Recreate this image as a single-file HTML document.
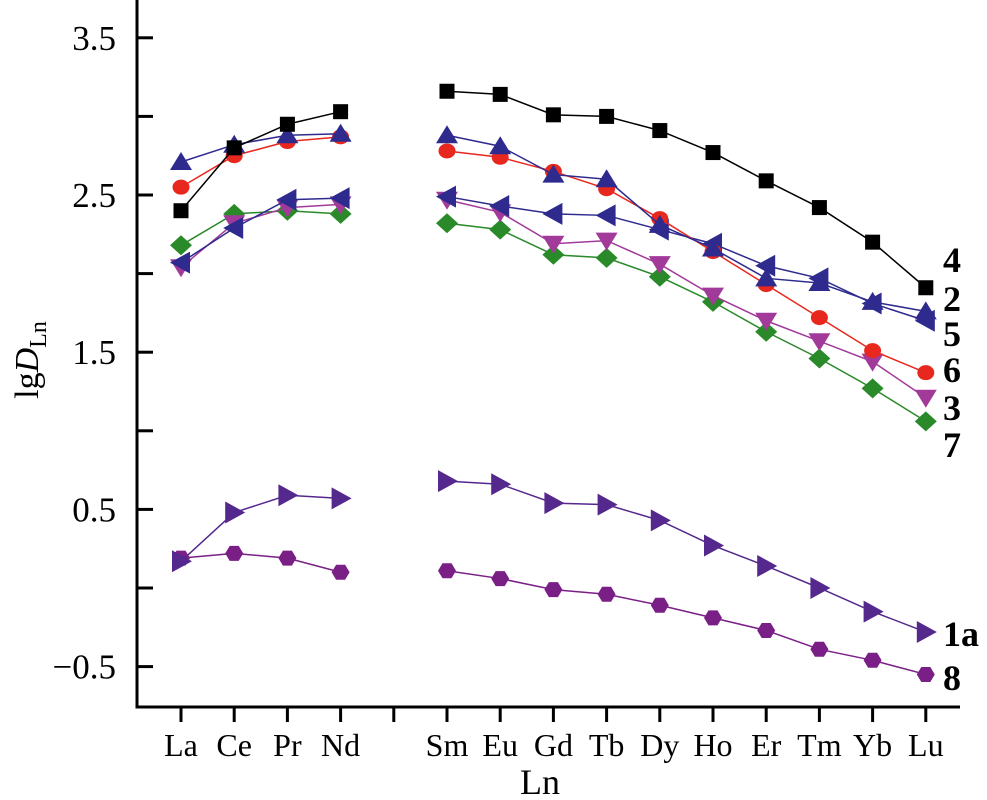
<!DOCTYPE html>
<html><head><meta charset="utf-8"><style>
html,body{margin:0;padding:0;background:#fff;}
svg{display:block;font-family:"Liberation Serif",serif;}
</style></head><body>
<svg id="chart" width="987" height="800" viewBox="0 0 987 800"></svg>
<script>
const categories=["La","Ce","Pr","Nd","Sm","Eu","Gd","Tb","Dy","Ho","Er","Tm","Yb","Lu"];
const catSlots=[0,1,2,3,5,6,7,8,9,10,11,12,13,14];
const yTicks=[-0.5,0,0.5,1,1.5,2,2.5,3,3.5];
const yTickLabels=["\u22120.5","","0.5","","1.5","","2.5","","3.5"];
const s4=[2.40,2.80,2.95,3.03,3.16,3.14,3.01,3.00,2.91,2.77,2.59,2.42,2.20,1.91];
const s2=[2.71,2.82,2.88,2.89,2.88,2.81,2.63,2.60,2.31,2.16,1.97,1.94,1.82,1.76];
const s6=[2.55,2.75,2.84,2.87,2.78,2.74,2.65,2.54,2.35,2.14,1.93,1.72,1.51,1.37];
const s5=[2.07,2.29,2.47,2.48,2.49,2.43,2.38,2.37,2.28,2.19,2.05,1.97,1.81,1.70];
const s3=[2.04,2.32,2.42,2.44,2.47,2.39,2.19,2.21,2.06,1.86,1.70,1.57,1.44,1.21];
const s7=[2.18,2.38,2.40,2.38,2.32,2.28,2.12,2.10,1.98,1.82,1.63,1.46,1.27,1.06];
const s1a=[0.17,0.48,0.59,0.57,0.68,0.66,0.54,0.53,0.43,0.27,0.14,0.00,-0.15,-0.28];
const s8=[0.19,0.22,0.19,0.10,0.11,0.06,-0.01,-0.04,-0.11,-0.19,-0.27,-0.39,-0.46,-0.55];

const NS="http://www.w3.org/2000/svg";
const svg=document.getElementById('chart');
function X(slot){return 181+slot*53.2;}
function Y(v){return 588-v*157.2;}
function el(tag,attrs,parent){const e=document.createElementNS(NS,tag);for(const k in attrs)e.setAttribute(k,attrs[k]);(parent||svg).appendChild(e);return e;}

const ax=el('g',{stroke:'#000','stroke-width':3,fill:'none'});


el('line',{x1:137,y1:0,x2:137,y2:708},ax);
el('line',{x1:135.5,y1:707,x2:960,y2:707},ax);
yTicks.forEach((t,i)=>{
  el('line',{x1:137,y1:Y(t),x2:153,y2:Y(t)},ax);
  if(yTickLabels[i]){
    const tx=el('text',{x:116,y:Y(t)+12,'text-anchor':'end','font-size':35,fill:'#000'});
    tx.textContent=yTickLabels[i];
    
    
  }
});
for(let s=0;s<15;s++){el('line',{x1:X(s),y1:707,x2:X(s),y2:722},ax);}
categories.forEach((c,i)=>{
  const tx=el('text',{x:X(catSlots[i]),y:756,'text-anchor':'middle','font-size':32,fill:'#000'});
  tx.textContent=c;
  
  
});
const xt=el('text',{x:540,y:794,'text-anchor':'middle','font-size':36,fill:'#000'});
xt.textContent='Ln';


const yt=el('text',{transform:'translate(38,360) rotate(-90)','text-anchor':'middle','font-size':34,fill:'#000'});
yt.innerHTML='lg<tspan font-style="italic">D</tspan><tspan font-size="24" dy="8">Ln</tspan>';



function marker(g,shape,x,y,col){
  if(shape==='square') el('rect',{x:x-7.5,y:y-7.5,width:15,height:15,fill:col},g);
  else if(shape==='circle') el('ellipse',{cx:x,cy:y,rx:8.5,ry:7.5,fill:col},g);
  else if(shape==='up') el('polygon',{points:`${x},${y-10} ${x-11},${y+8} ${x+11},${y+8}`,fill:col},g);
  else if(shape==='down') el('polygon',{points:`${x},${y+10} ${x-11},${y-8} ${x+11},${y-8}`,fill:col},g);
  else if(shape==='left') el('polygon',{points:`${x-11},${y} ${x+9},${y-11} ${x+9},${y+11}`,fill:col},g);
  else if(shape==='right') el('polygon',{points:`${x+11},${y} ${x-9},${y-11} ${x-9},${y+11}`,fill:col},g);
  else if(shape==='diamond') el('polygon',{points:`${x},${y-10} ${x+11},${y} ${x},${y+10} ${x-11},${y}`,fill:col},g);
  else if(shape==='hex') el('polygon',{points:`${x-9},${y} ${x-4.5},${y-7.5} ${x+4.5},${y-7.5} ${x+9},${y} ${x+4.5},${y+7.5} ${x-4.5},${y+7.5}`,fill:col},g);
}
const series=[
  {d:s8,c:'#7a1f86',sh:'hex',ly:690},
  {d:s1a,c:'#55288e',sh:'right',ly:646},
  {d:s7,c:'#2a8a2a',sh:'diamond',ly:457},
  {d:s3,c:'#a23a9a',sh:'down',ly:420},
  {d:s5,c:'#2e2a8e',sh:'left',ly:346},
  {d:s6,c:'#e8281e',sh:'circle',ly:382},
  {d:s2,c:'#2e2a8e',sh:'up',ly:311},
  {d:s4,c:'#000',sh:'square',ly:272},
];
const nm=["8","1a","7","3","5","6","2","4"];
series.forEach((s,k)=>{
  const g=el('g',{});
  
  
  const seg1=[],seg2=[];
  s.d.forEach((v,i)=>{(i<4?seg1:seg2).push(X(catSlots[i])+','+Y(v));});
  el('polyline',{points:seg1.join(' '),stroke:s.c,'stroke-width':1.5,fill:'none'},g);
  el('polyline',{points:seg2.join(' '),stroke:s.c,'stroke-width':1.5,fill:'none'},g);
  s.d.forEach((v,i)=>marker(g,s.sh,X(catSlots[i]),Y(v),s.c));
  const lb=el('text',{x:943,y:s.ly,'font-size':36,'font-weight':'bold',fill:'#000'});
  lb.textContent=nm[k];
  
  
});
</script>
</body></html>
